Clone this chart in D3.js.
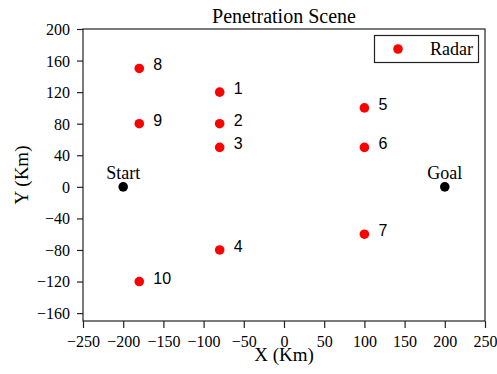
<!DOCTYPE html>
<html>
<head>
<meta charset="utf-8">
<script src="https://cdn.jsdelivr.net/npm/d3@7/dist/d3.min.js"></script>
<style>
  html, body { margin: 0; padding: 0; background: #fff; }
  svg { display: block; }
  text { font-family: "Liberation Serif", "Times New Roman", serif; fill: #000; }
</style>
</head>
<body>
<svg id="chart" width="497" height="374"></svg>
<script>
// Radar sites (Km)
const radarIds = ["1", "2", "3", "4", "5", "6", "7", "8", "9", "10"];
const radarX = [-80, -80, -80, -80, 100, 100, 100, -180, -180, -180];
const radarY = [120, 80, 50, -80, 100, 50, -60, 150, 80, -120];

// Mission endpoints
const pointNames = ["Start", "Goal"];
const pointX = [-200, 200];
const pointY = [0, 0];

// Axis ticks
const xTicks = [-250, -200, -150, -100, -50, 0, 50, 100, 150, 200, 250];
const yTicks = [-160, -120, -80, -40, 0, 40, 80, 120, 160, 200];
const xDomain = [-250, 250];
const yDomain = [-170, 200];

const svg = d3.select("#chart");
const plot = { left: 83, right: 485, top: 29, bottom: 321 };

const x = d3.scaleLinear().domain(xDomain).range([plot.left, plot.right]);
const y = d3.scaleLinear().domain(yDomain).range([plot.bottom, plot.top]);

// Frame
svg.append("rect")
  .attr("x", plot.left).attr("y", plot.top)
  .attr("width", plot.right - plot.left).attr("height", plot.bottom - plot.top)
  .attr("fill", "none").attr("stroke", "#222").attr("stroke-width", 1.2);

const fmt = d3.format("d");

const gx = svg.append("g")
  .attr("transform", `translate(0,${plot.bottom})`)
  .call(d3.axisBottom(x).tickValues(xTicks).tickFormat(fmt).tickSize(7).tickPadding(8));
const gy = svg.append("g")
  .attr("transform", `translate(${plot.left},0)`)
  .call(d3.axisLeft(y).tickValues(yTicks).tickFormat(fmt).tickSize(6).tickPadding(7));

[gx, gy].forEach(g => {
  g.attr("font-family", null).attr("font-size", null);
  g.select(".domain").remove();
  g.selectAll(".tick line").attr("stroke", "#222").attr("stroke-width", 1.2);
  g.selectAll(".tick text")
    .style("font-family", "'Liberation Serif', 'Times New Roman', serif")
    .style("font-size", "16px")
    .attr("fill", "#000");
});
gy.selectAll(".tick text").attr("dy", "0.34em");

// Title
svg.append("text")
  .attr("x", (plot.left + plot.right) / 2).attr("y", 23)
  .attr("text-anchor", "middle")
  .attr("font-size", 20)
  .text("Penetration Scene");

// Axis labels
svg.append("text")
  .attr("x", (plot.left + plot.right) / 2).attr("y", 361)
  .attr("text-anchor", "middle")
  .attr("font-size", 19)
  .text("X (Km)");
svg.append("text")
  .attr("transform", `translate(28,${(plot.top + plot.bottom) / 2}) rotate(-90)`)
  .attr("text-anchor", "middle")
  .attr("font-size", 19)
  .text("Y (Km)");

// Radar markers and their numbers
const radars = radarIds.map((id, i) => ({ id, x: radarX[i], y: radarY[i] }));
svg.append("g").selectAll("circle")
  .data(radars).join("circle")
  .attr("cx", d => x(d.x)).attr("cy", d => y(d.y))
  .attr("r", 4.8).attr("fill", "#ff0000");
svg.append("g").selectAll("text")
  .data(radars).join("text")
  .attr("x", d => x(d.x) + 14).attr("y", d => y(d.y) + 2)
  .style("font-size", "16px")
  .style("font-family", "'Liberation Sans', Arial, sans-serif")
  .text(d => d.id);

// Start / Goal
const ends = pointNames.map((n, i) => ({ n, x: pointX[i], y: pointY[i] }));
svg.append("g").selectAll("circle")
  .data(ends).join("circle")
  .attr("cx", d => x(d.x)).attr("cy", d => y(d.y))
  .attr("r", 4.8).attr("fill", "#000");
svg.append("g").selectAll("text")
  .data(ends).join("text")
  .attr("x", d => x(d.x)).attr("y", d => y(d.y) - 8)
  .attr("text-anchor", "middle")
  .attr("font-size", 18)
  .text(d => d.n);

// Legend
const lg = svg.append("g");
lg.append("rect")
  .attr("x", 374.5).attr("y", 35.5).attr("width", 104).attr("height", 27)
  .attr("fill", "#fff").attr("stroke", "#222").attr("stroke-width", 1.2);
lg.append("circle").attr("cx", 398).attr("cy", 49).attr("r", 4.8).attr("fill", "#ff0000");
lg.append("text").attr("x", 430).attr("y", 55).attr("font-size", 18).text("Radar");
</script>
</body>
</html>
